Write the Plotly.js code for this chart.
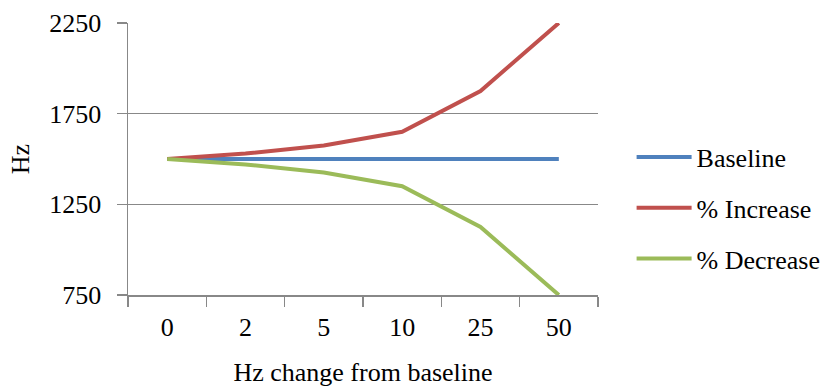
<!DOCTYPE html>
<html>
<head>
<meta charset="utf-8">
<script src="https://cdn.plot.ly/plotly-3.0.1.min.js"></script>
<style>html,body{margin:0;padding:0;background:#fff;}#chart{width:836px;height:389px;}</style>
</head>
<body>
<div id="chart"></div>
<script>
const categories = ["0", "2", "5", "10", "25", "50"];
const baseline = [1500, 1500, 1500, 1500, 1500, 1500];
const increase = [1500, 1530, 1575, 1650, 1875, 2250];
const decrease = [1500, 1470, 1425, 1350, 1125, 750];
const yTicks = [750, 1250, 1750, 2250];

const font = "Liberation Serif, Times New Roman, serif";
const fs = 26;
const mk = (name, y, color, g) => ({
  x: categories, y: y, name: name, type: "scatter", mode: "lines",
  line: {color: color, width: 4}, cliponaxis: false, legendgroup: g
});
const data = [
  mk("Baseline", baseline, "#4F81BD", "a"),
  mk("% Increase", increase, "#C0504D", "b"),
  mk("% Decrease", decrease, "#9BBB59", "c")
];
const layout = {
  width: 836, height: 389,
  margin: {l: 128, r: 238, t: 23, b: 94, autoexpand: false},
  paper_bgcolor: "#fff", plot_bgcolor: "#fff",
  font: {family: font, size: fs, color: "#000"},
  showlegend: true,
  legend: {xref: "container", x: 0.7555, xanchor: "left", yref: "container", y: 0.465, yanchor: "middle",
           traceorder: "grouped", tracegroupgap: 14, itemwidth: 55,
           font: {family: font, size: fs, color: "#000"}},
  xaxis: {type: "category", range: [-0.5, 5.5], tickson: "boundaries", automargin: false,
          ticks: "outside", ticklen: 10, tickcolor: "#888", tickwidth: 1.5,
          showline: true, linecolor: "#888", linewidth: 1.5, showgrid: false,
          ticklabelstandoff: 8,
          tickfont: {family: font, size: fs, color: "#000"},
          title: {text: "Hz change from baseline", standoff: 22, font: {family: font, size: fs, color: "#000"}}},
  yaxis: {range: [750, 2250], tickvals: yTicks, ticktext: yTicks.map(String), automargin: false,
          ticks: "outside", ticklen: 10, tickcolor: "#888", tickwidth: 1.5,
          showline: true, linecolor: "#888", linewidth: 1.5,
          showgrid: true, gridcolor: "#888", gridwidth: 1.5, zeroline: false,
          ticklabelstandoff: 10,
          tickfont: {family: font, size: fs, color: "#000"},
          title: {text: "Hz", standoff: 12, font: {family: font, size: fs, color: "#000"}}}
};
Plotly.newPlot("chart", data, layout, {displayModeBar: false, staticPlot: true});
</script>
</body>
</html>
